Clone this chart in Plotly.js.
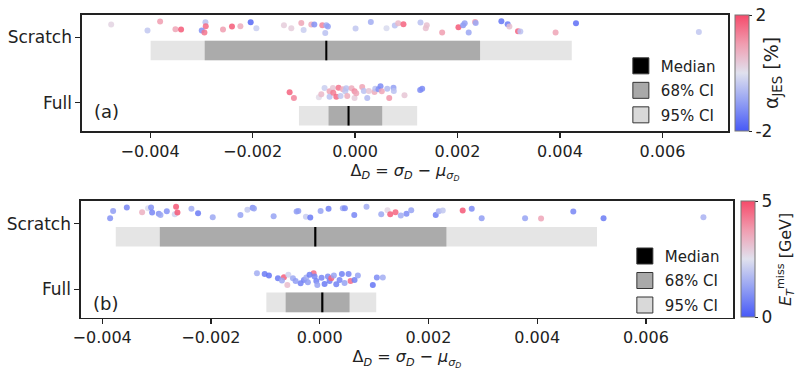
<!DOCTYPE html>
<html>
<head>
<meta charset="utf-8">
<script src="https://cdn.plot.ly/plotly-3.0.1.min.js"></script>
<style>
  html, body { margin: 0; padding: 0; background: white; }
  #chart { width: 797px; height: 370px; }
</style>
</head>
<body>
<div id="chart"></div>
<script>
const categories = ['Scratch', 'Full']
const catPos = [1, 0]

// panel (a): jet energy scale shift
const a95Lo = [-0.00399, -0.001095]
const a95Hi = [0.00423, 0.001212]
const a68Lo = [-0.002934, -0.000517]
const a68Hi = [0.00244, 0.00053]
const aMedian = [-0.000561, -0.000127]

const aScratchX = [-4.760, -4.051, -3.805, -3.505, -3.396, -2.920, -2.914, -2.992, -2.940, -2.577, -2.402, -2.238,
    -2.037, -1.926, -1.388, -1.244, -1.049, -1.004, -0.854, -0.795, -0.639, -0.561, -0.530, -0.581,
    0.010, 0.308, 0.614, 0.776, 0.842, 0.945, 1.277, 1.400, 1.380, 1.700, 2.018, 2.109,
    2.140, 2.218, 2.343, 2.355, 2.856, 2.979, 3.012, 3.181, 3.226, 3.914, 4.312, 6.710]
const aScratchJitter = [0.199, 0.107, 0.245, 0.127, 0.122, 0.234, 0.173, 0.107, 0.076, 0.122, 0.168, 0.173,
    0.234, 0.142, 0.188, 0.142, 0.223, 0.116, 0.199, 0.199, 0.188, 0.188, 0.168, 0.070,
    0.138, 0.239, 0.142, 0.183, 0.219, 0.203, 0.229, 0.188, 0.142, 0.076, 0.157, 0.188,
    0.219, 0.076, 0.239, 0.223, 0.249, 0.203, 0.168, 0.096, 0.092, 0.076, 0.219, 0.086]
const aScratchJes = [0.2, -0.4, 1.0, 0.9, 1.8, -0.5, 1.6, -1.2, 1.5, 1.0, 1.8, 0.8,
    -1.8, -0.3, 0.3, 0.3, 0.9, -0.3, 0.8, -1.2, 1.3, -0.8, -1.0, -0.5,
    -0.4, -0.8, -0.1, -0.5, 0.6, 1.7, -0.5, 0.5, 0.5, 1.0, 1.8, -1.1,
    -1.0, -0.9, 1.0, -0.9, -1.6, -1.5, 0.5, 1.7, -0.5, 0.9, -1.7, -0.4]

const aFullX = [-1.277, -1.193, -0.706, -0.659, -0.595, -0.497, -0.497, -0.433, -0.425, -0.366, -0.322, -0.283,
    -0.238, -0.191, -0.172, -0.152, -0.068, -0.010, -0.010, 0.023, 0.140, 0.172, 0.238, 0.269,
    0.380, 0.394, 0.458, 0.497, 0.522, 0.628, 0.667, 0.750, 0.756, 0.965, 1.271, 1.310]
const aFullJitter = [0.159, 0.072, 0.083, 0.128, 0.225, 0.174, 0.092, 0.225, 0.153, 0.092, 0.229, 0.102,
    0.205, 0.174, 0.220, 0.102, 0.220, 0.174, 0.072, 0.144, 0.240, 0.179, 0.072, 0.179,
    0.164, 0.214, 0.205, 0.251, 0.174, 0.214, 0.072, 0.229, 0.179, 0.113, 0.194, 0.214]
const aFullJes = [1.7, 1.3, 0.1, 0.6, -0.3, 0.9, -0.5, 0.4, 1.4, 1.6, 1.5, -0.4,
    0.8, -0.4, -0.5, 0.8, 0.8, 1.2, 0.3, 0.9, 0.9, -0.5, -0.6, 0.4,
    0.8, -0.5, -1.2, -1.3, 0.9, -0.6, 1.1, -1.0, -0.5, 0.4, -1.3, -1.3]

// panel (b): missing transverse energy
const b95Lo = [-0.00375, -0.000981]
const b95Hi = [0.0051, 0.00104]
const b68Lo = [-0.00294, -0.000626]
const b68Hi = [0.00233, 0.000549]
const bMedian = [-0.000081, 0.000048]

const bScratchX = [-3.854, -3.799, -3.547, -3.266, -3.156, -3.101, -3.082, -2.959, -2.928, -2.812, -2.665, -2.641,
    -2.616, -2.359, -2.237, -1.967, -1.458, -1.330, -1.233, -1.209, -0.847, -0.424, -0.393, -0.253,
    -0.173, 0.017, 0.163, 0.426, 0.463, 0.636, 0.861, 1.132, 1.247, 1.297, 1.394, 1.492,
    1.596, 1.683, 2.134, 2.190, 2.263, 2.630, 2.796, 2.979, 3.777, 4.071, 4.664, 5.220, 7.057]
const bScratchJitter = [0.081, 0.194, 0.245, 0.173, 0.234, 0.245, 0.168, 0.149, 0.133, 0.188, 0.142, 0.256,
    0.168, 0.225, 0.158, 0.096, 0.133, 0.210, 0.240, 0.230, 0.112, 0.184, 0.194, 0.103,
    0.092, 0.194, 0.225, 0.234, 0.234, 0.133, 0.256, 0.142, 0.204, 0.142, 0.173, 0.123,
    0.149, 0.204, 0.133, 0.188, 0.199, 0.199, 0.225, 0.081, 0.081, 0.077, 0.184, 0.081, 0.096]
const bScratchMet = [1.0, 1.2, 0.8, 3.4, 2.4, 1.0, 0.8, 1.0, 1.4, 1.0, 2.2, 4.8,
    4.8, 1.5, 0.6, 1.4, 1.3, 2.0, 1.0, 1.3, 1.3, 1.2, 1.2, 2.1,
    0.6, 1.3, 0.7, 1.4, 0.9, 0.8, 1.5, 1.4, 2.7, 4.7, 4.6, 1.5,
    0.9, 1.3, 0.7, 1.6, 2.0, 4.8, 0.9, 1.2, 1.3, 3.6, 0.8, 0.6, 1.6]

const bFullX = [-1.154, -1.012, -0.933, -0.768, -0.658, -0.694, -0.595, -0.577, -0.492, -0.351, -0.290, -0.246,
    -0.217, -0.112, -0.094, -0.062, -0.044, 0.151, 0.182, 0.213, 0.261, 0.305, 0.366, 0.408,
    0.531, 0.568, 0.641, 0.702, 0.977, 1.051, 1.161, 0.035, -0.186, -0.443, 0.090, 0.457]
const bFullJitter = [0.245, 0.230, 0.208, 0.168, 0.184, 0.132, 0.066, 0.219, 0.168, 0.092, 0.142, 0.178,
    0.107, 0.245, 0.193, 0.127, 0.066, 0.193, 0.127, 0.168, 0.208, 0.077, 0.142, 0.230,
    0.230, 0.127, 0.142, 0.208, 0.066, 0.178, 0.178, 0.173, 0.219, 0.127, 0.081, 0.096]
const bFullMet = [1.5, 0.6, 0.5, 0.6, 4.7, 1.4, 3.2, 2.2, 1.4, 0.7, 0.8, 1.5,
    1.2, 4.5, 0.8, 0.7, 1.3, 0.9, 0.7, 4.6, 1.3, 0.7, 0.8, 0.7,
    0.8, 4.5, 0.7, 1.3, 0.5, 0.9, 1.5, 0.8, 0.7, 1.2, 0.6, 1.3]

const diverging = [
    [0, '#4759f7'], [0.25, '#93a0f3'], [0.5, '#e0e1ee'], [0.75, '#f09db0'], [1, '#f64a6a']
]
const color95 = '#e5e5e5'
const color68 = '#ababab'
const medianW = 0.00004
const textColor = '#222'

function bandTraces(xa, ya, lo95, hi95, lo68, hi68, med) {
    const common = {
        type: 'bar', orientation: 'h', y: catPos, width: 0.3, offset: -0.35,
        xaxis: xa, yaxis: ya, showlegend: false, hoverinfo: 'skip'
    }
    return [
        {...common, base: lo95, x: hi95.map((h, i) => h - lo95[i]), marker: {color: color95}},
        {...common, base: lo68, x: hi68.map((h, i) => h - lo68[i]), marker: {color: color68}},
        {...common, base: med.map(m => m - medianW / 2), x: med.map(() => medianW), marker: {color: 'black'}}
    ]
}

function pointTrace(xs, jitter, catY, values, xa, ya, cax) {
    return {
        type: 'scatter', mode: 'markers',
        x: xs.map(v => v / 1000),
        y: jitter.map(j => catY + j),
        xaxis: xa, yaxis: ya, showlegend: false,
        marker: {size: 6, color: values, coloraxis: cax, opacity: 0.85, line: {width: 0}}
    }
}

// legend-only entries, one group each so the gap between rows can be set
function legendTraces(xa, ya, legendName) {
    const items = [['Median', 'black'], ['68% CI', '#a9a9a9'], ['95% CI', '#d9d9d9']]
    return items.map(([name, c]) => ({
        type: 'scatter', mode: 'markers', x: [null], y: [null],
        xaxis: xa, yaxis: ya, name: name, legend: legendName, legendgroup: legendName + name,
        marker: {symbol: 'square', size: 16, color: c, line: {color: '#333', width: 1}}
    }))
}

const data = [
    ...bandTraces('x', 'y', a95Lo, a95Hi, a68Lo, a68Hi, aMedian),
    pointTrace(aScratchX, aScratchJitter, catPos[0], aScratchJes, 'x', 'y', 'coloraxis'),
    pointTrace(aFullX, aFullJitter, catPos[1], aFullJes, 'x', 'y', 'coloraxis'),
    ...legendTraces('x', 'y', 'legend'),
    ...bandTraces('x2', 'y2', b95Lo, b95Hi, b68Lo, b68Hi, bMedian),
    pointTrace(bScratchX, bScratchJitter, catPos[0], bScratchMet, 'x2', 'y2', 'coloraxis2'),
    pointTrace(bFullX, bFullJitter, catPos[1], bFullMet, 'x2', 'y2', 'coloraxis2'),
    ...legendTraces('x2', 'y2', 'legend2')
]

const xTitle = 'Δ<sub><i>D</i></sub> = <i>σ<sub>D</sub></i> − <i>μ</i><sub><i>σ<sub>D</sub></i></sub>'

function xAxis(domain, anchor, range) {
    return {
        domain: domain, anchor: anchor, range: range,
        tickvals: [-0.004, -0.002, 0, 0.002, 0.004, 0.006], tickformat: '.3f',
        ticks: 'outside', ticklen: 5, tickwidth: 1.2, tickcolor: textColor,
        showline: true, mirror: true, linecolor: textColor, linewidth: 1.5,
        showgrid: false, zeroline: false,
        tickfont: {size: 16},
        title: {text: xTitle, font: {size: 16}, standoff: 4}
    }
}

function yAxis(domain, anchor) {
    return {
        domain: domain, anchor: anchor, range: [-0.434, 1.345],
        tickvals: catPos, ticktext: categories,
        ticks: 'outside', ticklen: 5, tickwidth: 1.2, tickcolor: textColor,
        showline: true, mirror: true, linecolor: textColor, linewidth: 1.5,
        showgrid: false, zeroline: false,
        tickfont: {size: 17}
    }
}

function colorAxis(lo, hi, title, titleSize, x, y) {
    return {
        cmin: lo, cmax: hi, colorscale: diverging,
        colorbar: {
            x: x, xanchor: 'left', xpad: 0, y: y, yanchor: 'middle', ypad: 0,
            len: 0.3135, lenmode: 'fraction', thickness: 14,
            outlinewidth: 1, outlinecolor: '#777',
            tickvals: [lo, hi], ticktext: [String(lo), String(hi)],
            ticks: 'outside', ticklen: 3, tickcolor: textColor,
            tickfont: {size: 17},
            title: {text: title, side: 'right', font: {size: titleSize}}
        }
    }
}

function legendBox(x, y) {
    return {
        x: x, xanchor: 'left', y: y, yanchor: 'top',
        bgcolor: 'rgba(255,255,255,0)', borderwidth: 0,
        font: {size: 15, color: textColor}, tracegroupgap: 2
    }
}

const layout = {
    width: 797, height: 370,
    margin: {l: 0, r: 0, t: 0, b: 0},
    paper_bgcolor: 'white', plot_bgcolor: 'white',
    font: {family: 'DejaVu Sans, sans-serif', size: 16, color: textColor},
    barmode: 'overlay',
    showlegend: true,
    xaxis: xAxis([0.1029, 0.9147], 'y', [-0.005331, 0.007281]),
    yaxis: yAxis([0.6459, 0.9595], 'x'),
    xaxis2: xAxis([0.1016, 0.9210], 'y2', [-0.004392, 0.007603]),
    yaxis2: yAxis([0.1414, 0.4568], 'x2'),
    coloraxis: colorAxis(-2, 2, 'α<sub>JES</sub> [%]', 19, 0.9222, 0.8027),
    coloraxis2: colorAxis(0, 5, '<i>E</i><sub><i>T</i></sub><sup>miss</sup> [GeV]', 16, 0.9297, 0.299),
    legend: legendBox(0.779, 0.866),
    legend2: legendBox(0.784, 0.352),
    annotations: [
        {text: '(a)', xref: 'x domain', yref: 'y domain', x: 0.016, y: 0.17,
            xanchor: 'left', yanchor: 'middle', showarrow: false, font: {size: 18}},
        {text: '(b)', xref: 'x2 domain', yref: 'y2 domain', x: 0.016, y: 0.122,
            xanchor: 'left', yanchor: 'middle', showarrow: false, font: {size: 18}}
    ]
}

document.addEventListener('DOMContentLoaded', () => {
    Plotly.newPlot('chart', data, layout, {staticPlot: true})
})
</script>
</body>
</html>
